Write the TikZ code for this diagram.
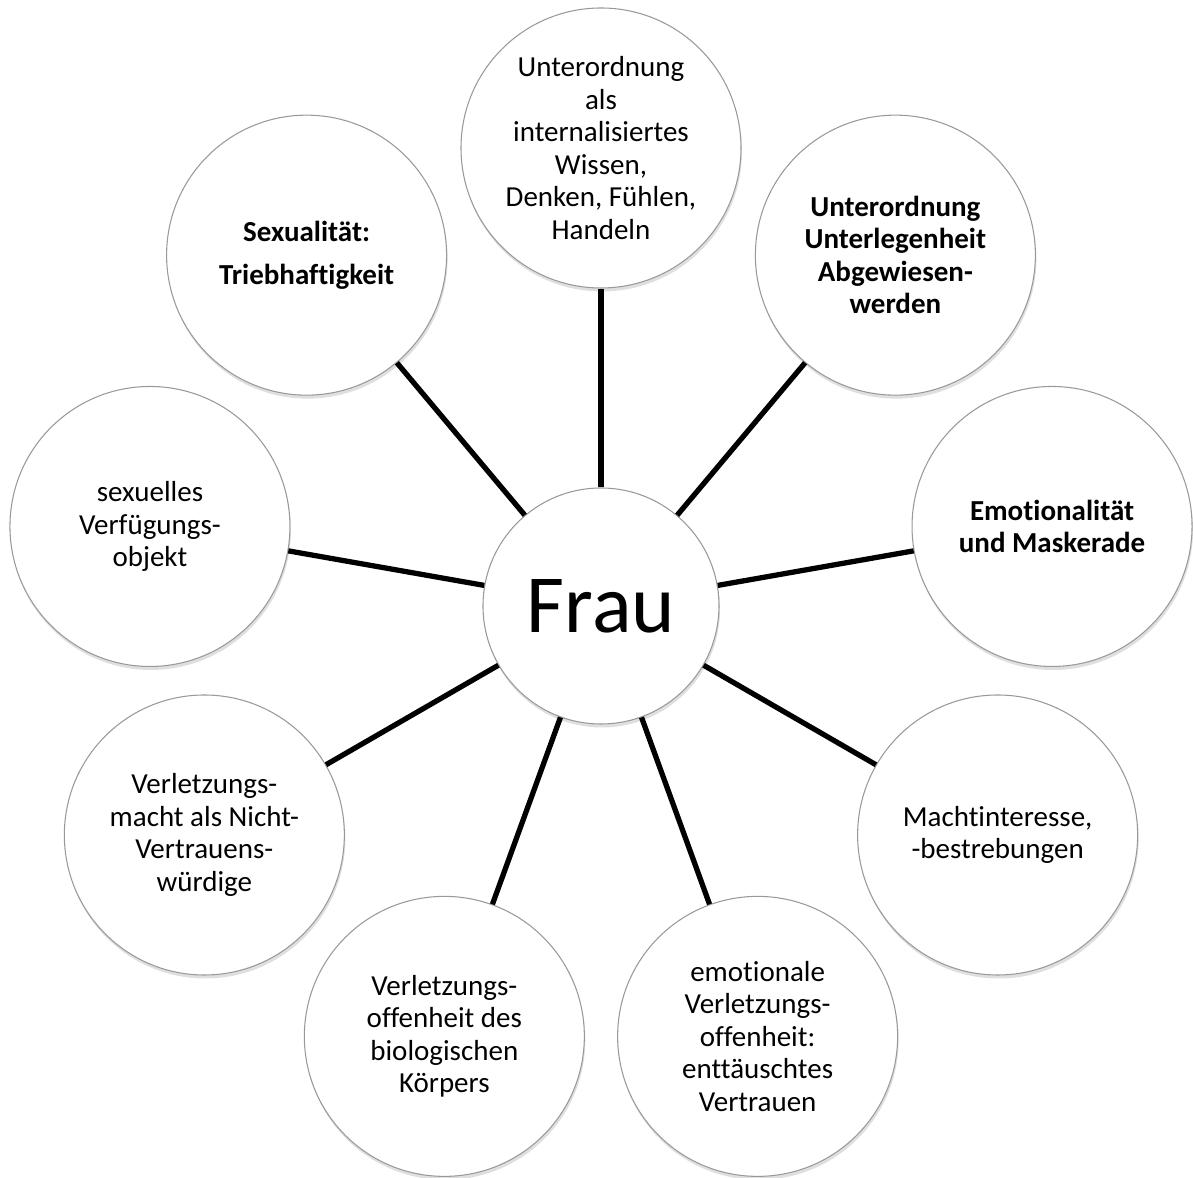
\documentclass[tikz,border=0pt]{standalone}
\usepackage{fontspec}
\setmainfont{Carlito}[Ligatures=NoCommon]
\usetikzlibrary{shadows}

\tikzset{
    topic/.style={circle, draw=gray!80, line width=0.6pt, fill=white,
        minimum size=5.6cm, inner sep=0pt, align=center,
        font=\fontsize{16.5}{18.5}\selectfont,
        drop shadow={shadow xshift=0.02cm, shadow yshift=-0.07cm, opacity=0.25, fill=gray}},
    centre/.style={topic, minimum size=4.72cm, font=\fontsize{47}{50}\selectfont},
    link/.style={line width=3pt, black}
}

\begin{document}
\begin{tikzpicture}
    \useasboundingbox (-12.02,-11.44) rectangle (11.84,12.12);

    \node[centre] (frau) at (0,0) {Frau};

    \node[topic] (wissen)         at (90:9.16)  {Unterordnung\\als\\internalisiertes\\Wissen,\\Denken, Fühlen,\\Handeln};
    \node[topic] (unterlegenheit) at (50:9.16)  {\textbf{Unterordnung}\\\textbf{Unterlegenheit}\\\textbf{Abgewiesen-}\\\textbf{werden}};
    \node[topic] (emotion)        at (10:9.16)  {\textbf{Emotionalität}\\\textbf{und Maskerade}};
    \node[topic] (macht)          at (-30:9.16) {Machtinteresse,\\-bestrebungen};
    \node[topic] (vertrauen)      at (-70:9.16) {emotionale\\Verletzungs-\\offenheit:\\enttäuschtes\\Vertrauen};
    \node[topic] (koerper)        at (-110:9.16) {Verletzungs-\\offenheit des\\biologischen\\Körpers};
    \node[topic] (nichtvertrauen) at (-150:9.16) {Verletzungs-\\macht als Nicht-\\Vertrauens-\\würdige};
    \node[topic] (objekt)         at (170:9.16) {sexuelles\\Verfügungs-\\objekt};
    \node[topic] (trieb)          at (130:9.16) {\textbf{Sexualität:}\\[6pt]\textbf{Triebhaftigkeit}};

    % spokes
    \foreach \n in {wissen, unterlegenheit, emotion, macht, vertrauen, koerper, nichtvertrauen, objekt, trieb}
        \draw[link] (frau) -- (\n);
\end{tikzpicture}
\end{document}
